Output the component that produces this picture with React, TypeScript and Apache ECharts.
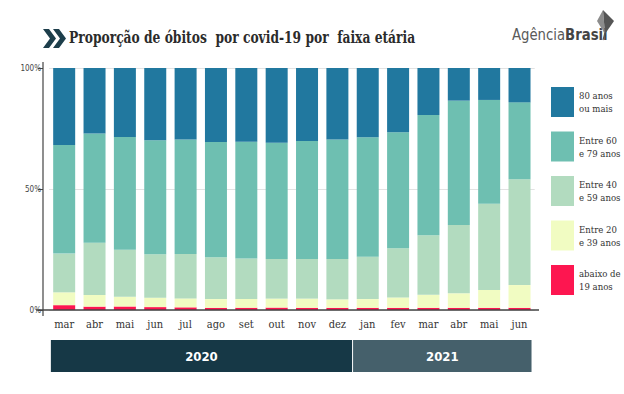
import React, { useEffect, useRef } from "react";
import * as echarts from "echarts";

const months = ["mar", "abr", "mai", "jun", "jul", "ago", "set", "out", "nov", "dez", "jan", "fev", "mar", "abr", "mai", "jun"];
const yTicks = ["0%", "50%", "100%"];
const ate19 = [2.0, 1.4, 1.4, 1.2, 1.1, 0.9, 0.9, 1.0, 0.9, 0.9, 0.9, 0.9, 0.9, 0.9, 0.9, 0.9];
const e20a39 = [5.3, 4.8, 4.1, 3.9, 3.7, 3.6, 3.6, 3.7, 3.8, 3.5, 3.6, 4.3, 5.4, 6.0, 7.4, 9.4];
const e40a59 = [16.0, 21.6, 19.4, 17.9, 18.3, 17.3, 16.8, 16.4, 16.4, 16.7, 17.5, 20.3, 24.6, 28.2, 35.6, 43.7];
const e60a79 = [44.9, 45.1, 46.6, 47.1, 47.4, 47.6, 48.2, 48.0, 48.7, 49.4, 49.4, 47.9, 49.7, 51.4, 42.9, 31.8];
const mais80 = [31.8, 27.1, 28.5, 29.9, 29.5, 30.6, 30.5, 30.9, 30.2, 29.5, 28.6, 26.6, 19.4, 13.5, 13.2, 14.2];
const years = ["2020", "2021"];
const yearMonthCounts = [10, 6];

const seriesDefs = [
  { name: "abaixo de\n19 anos", data: ate19, color: "#fd1650" },
  { name: "Entre 20\ne 39 anos", data: e20a39, color: "#f1fcc2" },
  { name: "Entre 40\ne 59 anos", data: e40a59, color: "#b2dbbf" },
  { name: "Entre 60\ne 79 anos", data: e60a79, color: "#6ebfb1" },
  { name: "80 anos\nou mais", data: mais80, color: "#21789f" },
];

const SERIF = "'DejaVu Serif Condensed', 'DejaVu Serif', serif";
const SANS = "'DejaVu Sans Condensed', 'DejaVu Sans', sans-serif";

export default function App() {
  const ref = useRef<HTMLDivElement>(null);
  useEffect(() => {
    document.body.style.margin = "0";
    const chart = echarts.init(ref.current!, null, { renderer: "svg" });
    const baseGraphic: any[] = [
      // chevrons
      { type: "polygon", shape: { points: [[43, 29], [49, 29], [56, 38.5], [49, 48], [43, 48], [50, 38.5]] }, style: { fill: "#1d3e4b" } },
      { type: "polygon", shape: { points: [[53, 29], [59, 29], [66, 38.5], [59, 48], [53, 48], [60, 38.5]] }, style: { fill: "#1d3e4b" } },
      {
        type: "text", x: 69, y: 28, scaleX: 0.78,
        style: { text: "Proporção de óbitos  por covid-19 por  faixa etária", font: `600 17.5px ${SERIF}`, fill: "#2b2b2b" },
      },
      {
        type: "text", x: 512, y: 27, scaleX: 0.95,
        style: {
          text: "{a|Agência}{b|Brasil}",
          rich: {
            a: { fontFamily: SANS, fontSize: 15.5, fill: "#5a5a5a", fontWeight: 300 },
            b: { fontFamily: SANS, fontSize: 15.5, fill: "#444", fontWeight: "bold" },
          },
        },
      },
      // kite logo
      { type: "polygon", shape: { points: [[603, 10], [597, 21], [605, 34]] }, style: { fill: "#8c8c8c" } },
      { type: "polygon", shape: { points: [[603, 10], [614, 21], [605, 34]] }, style: { fill: "#555" } },
      { type: "line", shape: { x1: 605, y1: 33, x2: 603, y2: 40 }, style: { stroke: "#555", lineWidth: 1.2 } },
      // axis lines
      { type: "line", shape: { x1: 43, y1: 62, x2: 43, y2: 316 }, style: { stroke: "#444", lineWidth: 1.2 }, z: 10 },
      { type: "line", shape: { x1: 36, y1: 310, x2: 539, y2: 310 }, style: { stroke: "#444", lineWidth: 1.5 }, z: 10 },
    ];
    const option: any = {
      animation: false,
      backgroundColor: "#ffffff",
      grid: { left: 49, right: 89.3, top: 68, bottom: 84 },
      xAxis: {
        type: "category",
        data: months,
        axisLine: { show: false },
        axisTick: { show: false },
        axisLabel: { color: "#333", fontFamily: SERIF, fontSize: 11, margin: 9 },
      },
      yAxis: {
        type: "value",
        min: 0,
        max: 100,
        interval: 50,
        offset: 6,
        axisLine: { show: false },
        axisTick: { show: true, length: 5, lineStyle: { color: "#444" } },
        splitLine: { show: true, lineStyle: { color: "#e2e2e2", width: 1 } },
        axisLabel: {
          color: "#444", fontSize: 8, fontFamily: SANS, margin: 2,
          formatter: (v: number) => yTicks[Math.round(v / 50)],
        },
      },
      legend: {
        orient: "vertical",
        left: 546,
        top: 82,
        itemWidth: 23,
        itemHeight: 30,
        itemGap: 14.5,
        icon: "rect",
        data: [...seriesDefs].reverse().map((s) => s.name),
        textStyle: { color: "#333", fontFamily: SERIF, fontSize: 9.5, lineHeight: 13 },
        selectedMode: false,
      },
      series: seriesDefs.map((s) => ({
        name: s.name,
        type: "bar",
        stack: "total",
        barWidth: 22,
        data: s.data,
        itemStyle: { color: s.color },
      })),
      graphic: baseGraphic,
    };
    chart.setOption(option);

    // year band positioned from the category axis
    const px = (i: number) => chart.convertToPixel({ xAxisIndex: 0 }, i) as number;
    const bandColors = ["#163846", "#45606b"];
    const yearGraphic: any[] = [];
    let startIdx = 0;
    years.forEach((yr, k) => {
      const endIdx = startIdx + yearMonthCounts[k] - 1;
      const x0 = k === 0 ? px(startIdx) - 13.3 : (px(startIdx - 1) + px(startIdx)) / 2 + 0.5;
      const x1 = k === years.length - 1 ? px(endIdx) + 12 : (px(endIdx) + px(endIdx + 1)) / 2 - 0.5;
      yearGraphic.push({
        type: "rect",
        shape: { x: x0, y: 340, width: x1 - x0, height: 32 },
        style: { fill: bandColors[k] },
      });
      yearGraphic.push({
        type: "text",
        x: (x0 + x1) / 2,
        y: 356,
        style: {
          text: yr, fill: "#ffffff", font: `bold 13px ${SANS}`,
          align: "center", verticalAlign: "middle",
        },
      });
      startIdx = endIdx + 1;
    });
    chart.setOption({ graphic: [...baseGraphic, ...yearGraphic] });

    return () => chart.dispose();
  }, []);
  return <div ref={ref} style={{ position: "absolute", left: 0, top: 0, width: 624, height: 394 }} />;
}
